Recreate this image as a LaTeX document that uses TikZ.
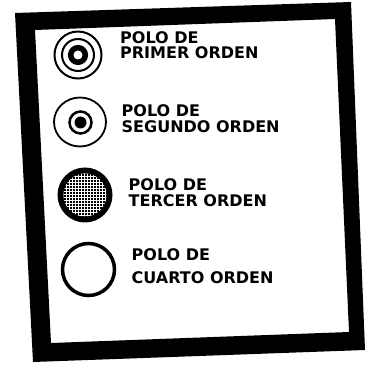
\documentclass[tikz,border=0pt]{standalone}
\usepackage{fontspec}
\usepackage{tikz}
\usetikzlibrary{backgrounds}
\newfontfamily\polofont{DejaVu Sans}

\begin{document}
\begin{tikzpicture}[x=1pt, y=-1pt,
    every node/.style={scale=1.0},
    polotext/.style={font=\polofont\bfseries\fontsize{16}{16}\selectfont, anchor=base west, inner sep=0pt, text height=11.7pt, text depth=0pt},
    ring/.style={line width=2pt}]
             \useasboundingbox[fill=white] (0,0) rectangle (367,366);
             % thick frame, slightly turned
             \fill[even odd rule] (15,13) -- (351,2) -- (365,350) -- (33,362) -- cycle
                                  (35,30) -- (335,19) -- (349,332) -- (51,343) -- cycle;
             % first order
             \draw[ring] (78,55) circle (23.5);
             \draw[ring] (78,55) circle (16);
             \draw[line width=5.5pt] (78,55) circle (7.3);
             \node[polotext] (primA) at (120,43.5) {POLO DE};
             \node[polotext] (primB) at (120,59) {PRIMER ORDEN};
             % second order
             \draw[line width=1.8pt] (80,122) circle [x radius=26, y radius=24.5];
             \draw[line width=2.5pt] (80.5,122.5) circle (11);
             \fill (80.5,122.5) circle (6);
             \node[polotext] (segA) at (121.5,116.5) {POLO DE};
             \node[polotext] (segB) at (121.5,132.5) {SEGUNDO ORDEN};
             % third order
             \fill (85,195) circle (27.5);
             \begin{scope}
                 \clip (85,195) circle (21.5);
                 \foreach \k in {-22,-19,...,22} {
                     \draw[white, line width=0.9pt] (85+\k,170) -- (85+\k,220);
                     \draw[white, line width=0.9pt] (60,195+\k) -- (110,195+\k);
                 }
             \end{scope}
             \node[polotext] (terA) at (128.5,190.5) {POLO DE};
             \node[polotext] (terB) at (128.5,206.5) {TERCER ORDEN};
             % fourth order
             \draw[line width=3.5pt] (88.5,269.5) circle (26);
             \node[polotext] (cuaA) at (131.5,260.5) {POLO DE};
             \node[polotext] (cuaB) at (131.5,283.5) {CUARTO ORDEN};
         \end{tikzpicture}
\end{document}
